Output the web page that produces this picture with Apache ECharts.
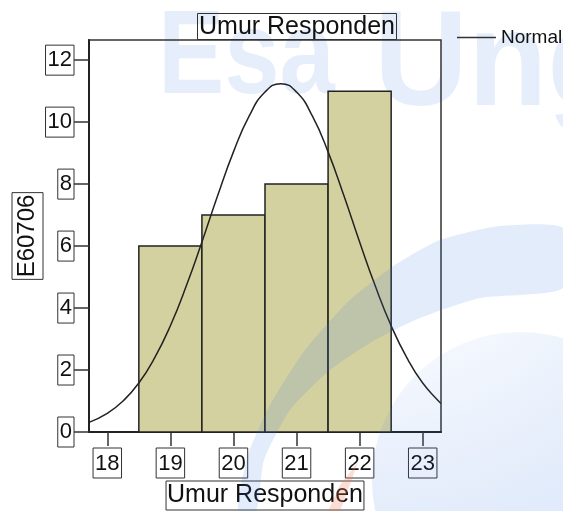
<!DOCTYPE html>
<html>
<head>
<meta charset="utf-8">
<script src="https://cdn.jsdelivr.net/npm/echarts@6/dist/echarts.min.js"></script>
<style>
  html, body { margin: 0; padding: 0; background: #fff; }
  #chart { width: 563px; height: 511px; }
</style>
</head>
<body>
<div id="chart"></div>
<script>
// histogram bins (age, count)
const binCenters = [19, 20, 21, 22];
const binCounts = [6, 7, 8, 11];
const binWidth = 1;

// normal curve
const normalX = [17.71, 18, 18.25, 18.5, 18.75, 19, 19.25, 19.5, 19.75, 20, 20.25, 20.5, 20.75,
  21, 21.25, 21.5, 21.75, 22, 22.25, 22.5, 22.75, 23, 23.25, 23.29];
const normalY = [0.31, 0.6, 1.0, 1.58, 2.39, 3.43, 4.7, 6.13, 7.63, 9.04, 10.2, 10.97, 11.24,
  10.97, 10.2, 9.04, 7.63, 6.13, 4.7, 3.43, 2.39, 1.58, 1.0, 0.92];

const xTicks = [18, 19, 20, 21, 22, 23];
const yTicks = [0, 2, 4, 6, 8, 10, 12];

const titleText = "Umur Responden";
const xName = "Umur Responden";
const yName = "E60706";

const chart = echarts.init(document.getElementById("chart"), null, { renderer: "canvas" });

const font = "Liberation Sans, Arial, sans-serif";
const boxLabel = {
  fontFamily: font,
  fontSize: 22,
  color: "#111",
  borderColor: "#333",
  borderWidth: 1,
  padding: [3, 2, 1, 2],
  lineHeight: 26,
};
const wm = "rgba(55,119,226,0.14)";

const option = {
  animation: false,
  backgroundColor: "#fff",
  title: {
    text: titleText,
    left: 197,
    top: 13,
    padding: [1, 2, 0, 2],
    borderColor: "#333",
    borderWidth: 1,
    textStyle: { fontFamily: font, fontSize: 25, fontWeight: "normal", color: "#111", lineHeight: 26 },
  },
  legend: {
    data: ["Normal"],
    left: 452,
    top: 23,
    icon: "rect",
    itemWidth: 39,
    itemHeight: 1.5,
    itemStyle: { color: "#333" },
    textStyle: { fontFamily: font, fontSize: 19, color: "#111" },
  },
  grid: {
    left: 89,
    right: 122,
    top: 40,
    bottom: 79,
    containLabel: false,
    outerBoundsMode: "none",
    show: true,
    borderColor: "#333",
    borderWidth: 1.5,
  },
  xAxis: {
    type: "value",
    min: 17.71,
    max: 23.29,
    name: xName,
    nameLocation: "middle",
    nameGap: 49,
    nameMoveOverlap: false,
    nameTextStyle: {
      fontFamily: font, fontSize: 25, color: "#111",
      borderColor: "#333", borderWidth: 1, padding: [0, 1, 0, 1], lineHeight: 29,
    },
    axisLine: { show: true, lineStyle: { color: "#222", width: 2 } },
    axisTick: { show: true, customValues: xTicks, length: 14, lineStyle: { color: "#333", width: 1.5 } },
    axisLabel: Object.assign({ customValues: xTicks, margin: 16 }, boxLabel),
    splitLine: { show: false },
  },
  yAxis: {
    type: "value",
    min: 0,
    max: 12.65,
    name: yName,
    nameLocation: "middle",
    nameRotate: 90,
    nameGap: 46,
    nameMoveOverlap: false,
    nameTextStyle: {
      fontFamily: font, fontSize: 24, color: "#111",
      borderColor: "#333", borderWidth: 1, padding: [1, 2, 1, 2], lineHeight: 29,
    },
    axisLine: { show: true, lineStyle: { color: "#222", width: 2 } },
    axisTick: { show: true, customValues: yTicks, length: 15, lineStyle: { color: "#333", width: 1.5 } },
    axisLabel: Object.assign({ customValues: yTicks, margin: 15 }, boxLabel),
    splitLine: { show: false },
  },
  graphic: [
    // faint watermark
    {
      type: "text", z: -10, silent: true, x: 158, y: 0, scaleX: 1.08, scaleY: 1.3,
      style: { text: "Esa", fill: "rgba(55,119,226,0.12)", font: "bold 92px " + font, verticalAlign: "top" },
    },
    {
      type: "text", z: -10, silent: true, x: 374, y: 0, scaleX: 1.25, scaleY: 1.3,
      style: { text: "Ung", fill: "rgba(55,119,226,0.12)", font: "bold 104px " + font, verticalAlign: "top" },
    },
    {
      type: "circle", z: 100, silent: true,
      shape: { cx: 520, cy: 480, r: 148 },
      style: {
        fill: {
          type: "radial", x: 0.0, y: -0.6, r: 1.3,
          colorStops: [
            { offset: 0, color: "rgba(55,119,226,0.0)" },
            { offset: 0.55, color: "rgba(55,119,226,0.06)" },
            { offset: 1, color: "rgba(55,119,226,0.15)" },
          ],
        },
      },
    },
    {
      type: "polygon", z: 100, silent: true,
      shape: {
        smooth: 0.2,
        points: [[563, 228], [500, 226], [440, 240], [395, 265], [350, 300], [305, 350], [270, 405],
          [248, 455], [238, 511], [256, 511], [264, 460], [290, 410], [330, 370], [375, 340],
          [420, 318], [480, 298], [563, 288]],
      },
      style: { fill: wm },
    },
    {
      type: "polygon", z: 100, silent: true,
      shape: { points: [[358, 462], [340, 485], [328, 511], [340, 511], [348, 490]] },
      style: { fill: "rgba(240,120,80,0.25)" },
    },
  ],
  series: [
    {
      name: "Frequency",
      type: "custom",
      z: 2,
      data: binCenters.map((c, i) => [c, binCounts[i]]),
      renderItem: function (params, api) {
        const x = api.value(0);
        const y = api.value(1);
        const p0 = api.coord([x - binWidth / 2, y]);
        const p1 = api.coord([x + binWidth / 2, 0]);
        return {
          type: "rect",
          shape: { x: p0[0], y: p0[1], width: p1[0] - p0[0], height: p1[1] - p0[1] },
          style: { fill: "#d4d1a0", stroke: "#222", lineWidth: 1.5 },
        };
      },
    },
    {
      name: "Normal",
      type: "line",
      z: 3,
      data: normalX.map((x, i) => [x, normalY[i]]),
      smooth: true,
      showSymbol: false,
      symbol: "none",
      lineStyle: { color: "#222", width: 1.5 },
      itemStyle: { color: "#222" },
    },
  ],
};

chart.setOption(option);
</script>
</body>
</html>
